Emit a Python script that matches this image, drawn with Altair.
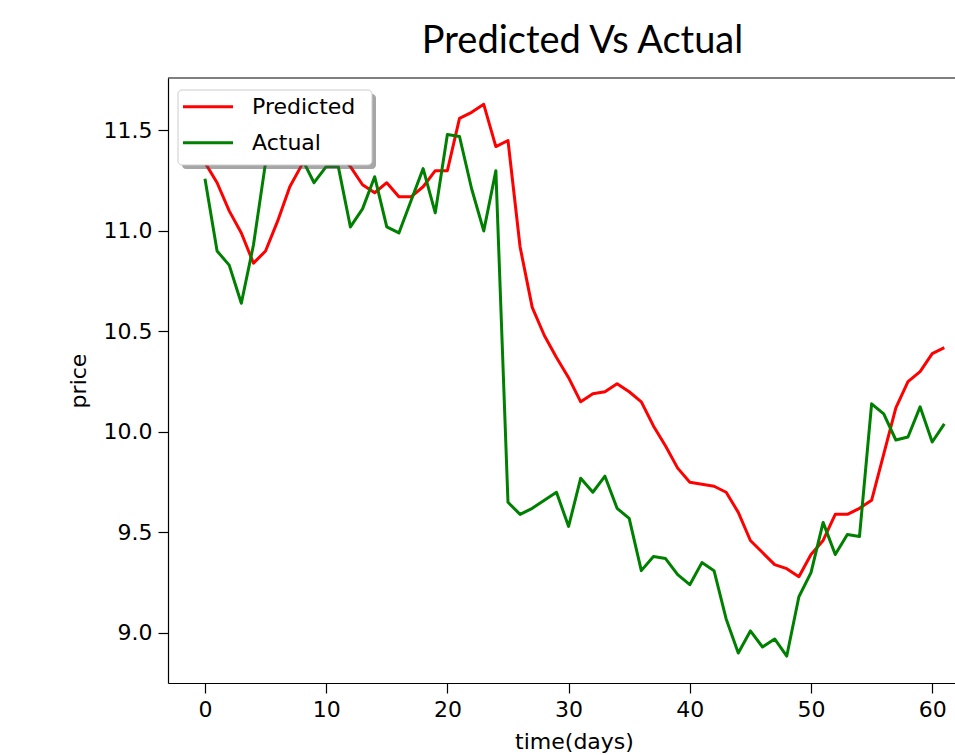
import altair as alt
import pandas as pd

# Daily price series: model prediction vs observed value
days = list(range(62))
predicted = [
    11.34, 11.24, 11.10, 10.99, 10.84, 10.90, 11.05, 11.22, 11.33, 11.38,
    11.40, 11.39, 11.32, 11.23, 11.19, 11.24, 11.17, 11.17, 11.22, 11.30,
    11.30, 11.56, 11.59, 11.63, 11.42, 11.45, 10.92, 10.62, 10.48, 10.37,
    10.27, 10.15, 10.19, 10.20, 10.24, 10.20, 10.15, 10.03, 9.93, 9.82,
    9.75, 9.74, 9.73, 9.70, 9.60, 9.46, 9.40, 9.34, 9.32, 9.28,
    9.39, 9.46, 9.59, 9.59, 9.62, 9.66, 9.89, 10.12, 10.25, 10.30,
    10.39, 10.42,
]
actual = [
    11.26, 10.90, 10.83, 10.64, 10.93, 11.34, 11.42, 11.45, 11.36, 11.24,
    11.32, 11.32, 11.02, 11.11, 11.27, 11.02, 10.99, 11.15, 11.31, 11.09,
    11.48, 11.47, 11.21, 11.00, 11.30, 9.65, 9.59, 9.62, 9.66, 9.70,
    9.53, 9.77, 9.70, 9.78, 9.62, 9.57, 9.31, 9.38, 9.37, 9.29,
    9.24, 9.35, 9.31, 9.07, 8.90, 9.01, 8.93, 8.97, 8.885, 9.18,
    9.30, 9.55, 9.39, 9.49, 9.48, 10.14, 10.09, 9.96, 9.975, 10.125,
    9.95, 10.04,
]
series_names = ["Predicted", "Actual"]
series_colors = ["#ff0000", "#008000"]
x_ticks = [0, 10, 20, 30, 40, 50, 60]
y_ticks = [9.0, 9.5, 10.0, 10.5, 11.0, 11.5]

df = pd.DataFrame({
    "day": days + days,
    "price": predicted + actual,
    "series": ["Predicted"] * len(days) + ["Actual"] * len(days),
})

W, H = 787, 605
FONT = "DejaVu Sans"
FS = 22

lines = alt.Chart(df).mark_line(strokeWidth=3, strokeJoin="round", strokeCap="butt").encode(
    x=alt.X("day:Q",
            scale=alt.Scale(domain=[-3.05, 61.88], nice=False, zero=False),
            axis=alt.Axis(values=x_ticks, format="d", title="time(days)",
                          titleX=406, titleY=65, titleBaseline="alphabetic",
                          titleAlign="center")),
    y=alt.Y("price:Q",
            scale=alt.Scale(domain=[8.751, 11.761], nice=False, zero=False),
            axis=alt.Axis(values=y_ticks, format=".1f", title="price",
                          titleX=-83, titleY=302.5, titleAngle=270,
                          titleBaseline="alphabetic", titleAlign="center")),
    color=alt.Color("series:N",
                    scale=alt.Scale(domain=series_names, range=series_colors),
                    sort=series_names,
                    legend=alt.Legend(title=None, orient="none",
                                      legendX=13.5, legendY=18.2,
                                      padding=0, symbolType="stroke",
                                      symbolSize=2500, symbolStrokeWidth=3,
                                      clipHeight=21, rowPadding=13,
                                      labelOffset=17.5, labelFont=FONT,
                                      labelFontSize=FS, labelColor="#000000")),
    detail="series:N",
)

one_row = alt.Data(values=[{"k": 0}])

# frame line along the top of the plot area
top_spine = alt.Chart(one_row).mark_rule(color="#000000", strokeWidth=1.2).encode(
    x=alt.value(0), x2=alt.value(W), y=alt.value(0)
)

# legend frame with a drop shadow
legend_shadow = alt.Chart(one_row).mark_rect(
    fill="#4d4d4d", opacity=0.5, cornerRadius=4
).encode(x=alt.value(14), x2=alt.value(208), y=alt.value(16), y2=alt.value(91))

legend_box = alt.Chart(one_row).mark_rect(
    fill="#ffffff", stroke="#cccccc", strokeWidth=1, cornerRadius=4
).encode(x=alt.value(10), x2=alt.value(204), y=alt.value(12), y2=alt.value(87))

chart = alt.layer(lines, top_spine, legend_shadow, legend_box).properties(
    width=W,
    height=H,
    background="#ffffff",
    title=alt.TitleParams("Predicted Vs Actual", font="Lato", fontSize=38,
                          fontWeight="normal", color="#000000", anchor="middle",
                          frame="group", dx=21, dy=40, offset=26,
                          baseline="alphabetic"),
    autosize=alt.AutoSizeParams(type="none"),
    padding={"left": 168, "top": 78, "right": 0, "bottom": 72},
).configure_view(stroke=None).configure_axis(
    grid=False,
    domainColor="#000000", domainWidth=1.2,
    tickColor="#000000", tickWidth=1.2, tickSize=10,
    labelFont=FONT, labelFontSize=FS, labelColor="#000000", labelPadding=6,
    titleFont=FONT, titleFontSize=FS, titleFontWeight="normal", titleColor="#000000",
)

chart.save("out.html", embed_options={"renderer": "svg", "actions": False})
